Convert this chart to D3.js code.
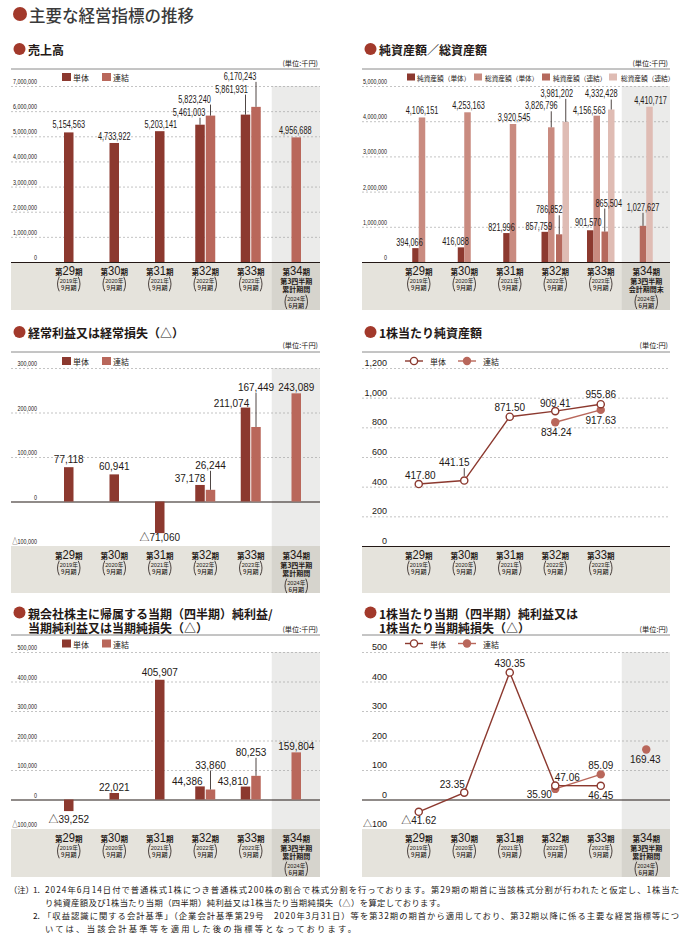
<!DOCTYPE html>
<html><head><meta charset="utf-8">
<script src="https://cdn.jsdelivr.net/npm/d3@7/dist/d3.min.js"></script>
<style>html,body{margin:0;padding:0;background:#fff;}svg{display:block;}</style>
</head><body>
<svg id="chart" width="686" height="939" xmlns="http://www.w3.org/2000/svg"></svg>
<script>
// ---------------- data ----------------
const periods = ["29","30","31","32","33","34"];
const years   = ["2019年","2020年","2021年","2022年","2023年","2024年"];
const months  = ["9月期","9月期","9月期","9月期","9月期","6月期"];
const q34Cumulative = ["第3四半期","累計期間"];
const q34PeriodEnd  = ["第3四半期","会計期間末"];

const salesTantai   = [5154563, 4733922, 5203141, 5461003, 5861931, null];
const salesRenketsu = [null, null, null, 5823240, 6170243, 4956688];
const salesTicks    = [0,1000000,2000000,3000000,4000000,5000000,6000000,7000000];

const netAssetsTantai     = [394066, 416088, 821996, 857759, 901570, null];
const totalAssetsTantai   = [4106151, 4253163, 3920545, 3826796, 4156563, null];
const netAssetsRenketsu   = [null, null, null, 786852, 865504, 1027627];
const totalAssetsRenketsu = [null, null, null, 3981202, 4332428, 4410717];
const assetTicks = [0,1000000,2000000,3000000,4000000,5000000];

const ordinaryTantai   = [77118, 60941, -71060, 37178, 211074, null];
const ordinaryRenketsu = [null, null, null, 26244, 167449, 243089];
const ordinaryTicks = [-100000,0,100000,200000,300000];

const bpsTantai   = [417.80, 441.15, 871.50, 909.41, 955.86];
const bpsRenketsu = [null, null, null, 834.24, 917.63];
const bpsTicks = [0,200,400,600,800,1000,1200];

const netIncomeTantai   = [-39252, 22021, 405907, 44386, 43810, null];
const netIncomeRenketsu = [null, null, null, 33860, 80253, 159804];
const netIncomeTicks = [-100000,0,100000,200000,300000,400000,500000];

const epsTantai   = [-41.62, 23.35, 430.35, 47.06, 46.45, null];
const epsRenketsu = [null, null, null, 35.90, 85.09, 169.43];
const epsTicks = [-100,0,100,200,300,400,500];

const notes = [
  "2024年6月14日付で普通株式1株につき普通株式200株の割合で株式分割を行っております。第29期の期首に当該株式分割が行われたと仮定し、1株当た",
  "り純資産額及び1株当たり当期（四半期）純利益又は1株当たり当期純損失（△）を算定しております。",
  "「収益認識に関する会計基準」（企業会計基準第29号　2020年3月31日）等を第32期の期首から適用しており、第32期以降に係る主要な経営指標等につ",
  "いては、当該会計基準等を適用した後の指標等となっております。"
];

// -------- label placement (layout only): [dx from mark centre, gap to baseline, leader] --------
const salesTantaiLab   = [[0,4],[0,3],[1,3],[-11,9],[-14,22],null];
const salesRenketsuLab = [null,null,null,[-16,13],[-16,27],[-1,3]];
const netAssetsTantaiLab     = [[-6,2],[-5.5,2],[-5,2],[-6,2],[-2,4],null];
const totalAssetsTantaiLab   = [[0,3.5],[1,3],[1,3],[-10,18],[-7.5,2],null];
const netAssetsRenketsuLab   = [null,null,null,[-10,21],[4,25],[0,15]];
const totalAssetsRenketsuLab = [null,null,null,[-9,25],[-10,12],[1,3]];
const ordinaryTantaiLab   = [[0,4],[0,4],[0,8],[-10,2.5],[-14,1],null];
const ordinaryRenketsuLab = [null,null,null,[0,21],[0,36],[0,2]];
const netIncomeTantaiLab   = [[0,11.5],[0,2.5],[0,3.5],[-12.75,1.5],[-12.5,1.5],null];
const netIncomeRenketsuLab = [null,null,null,[0,21],[-5,20],[0,2]];
const bpsTantaiLab   = [[1.5,-5.5],[-10,-15,true],[0,-6],[0,-4.6],[0,-6.7]];
const bpsRenketsuLab = [null,null,null,[1,14],[0,14.5]];
const epsTantaiLab   = [[0,12],[-12,-4.6],[0,-5.5],[12,-4.6],[0,13],null];
const epsRenketsuLab = [null,null,null,[-16,9],[0,-5.4],[-1,13.5]];

// ---------------- styles ----------------
const JP  = '"Noto Sans CJK JP","Noto Sans",sans-serif';
const NUM = '"Liberation Sans",Arial,"Noto Sans CJK JP",sans-serif';
const C = {
  tan:"#8c392f", ren:"#b9675b", bullet:"#a2392b", text:"#231815",
  na1:"#8c392f", ta1:"#c98b80", na2:"#b5695d", ta2:"#dfbcb4",
  band:"#e5e3dc", bandDark:"#d6d4cd", shade:"#ebebea",
  grid:"#9c9c9c", top:"#8a8a8a", axis:"#231815"
};
const panels = {
  L:{x0:11, x1:320, c0:46,  c1:319, tickX:37},
  R:{x0:362,x1:670, c0:396, c1:669, tickX:387}
};
const rows = [
  {title:[49],        unit:63,  top:69,  legend:77,    plotTop:86,  bandTop:262, bandBot:310},
  {title:[332],       unit:345, top:352, legend:361,   plotTop:368, bandTop:546, bandBot:593},
  {title:[612.5,626.5], unit:629, top:635, legend:643.5, plotTop:652, bandTop:829, bandBot:877}
];

const svg = d3.select("#chart");
const fmtInt = v => (v<0?"△":"") + d3.format(",")(Math.abs(v));
const fmtDec = v => (v<0?"△":"") + d3.format(".2f")(Math.abs(v));

function txt(g, x, y, s, o={}) {
  const t = g.append("text")
    .attr("transform", `translate(${x},${y})` + (o.sx ? ` scale(${o.sx},1)` : ""))
    .attr("text-anchor", o.anchor || "middle")
    .attr("font-family", o.family || NUM)
    .attr("font-size", o.size || 10)
    .attr("fill", o.fill || C.text)
    .text(s);
  if (o.weight) t.attr("font-weight", o.weight);
  if (o.baseline) t.attr("dominant-baseline", o.baseline);
  return t;
}

// ---------------- header ----------------
svg.append("circle").attr("cx",20).attr("cy",14).attr("r",7).attr("fill",C.bullet);
txt(svg, 29, 14.5, "主要な経営指標の推移", {anchor:"start", family:JP, size:16.5, weight:500, fill:"#3a3a3a", baseline:"central"});

// ---------------- frame ----------------
function frame(pk, ri, cfg) {
  const P = panels[pk], R = rows[ri];
  const g = svg.append("g");
  const x = d3.scaleBand().domain(d3.range(6)).range([P.c0, P.c1]);
  const cx = i => x(i) + x.bandwidth()/2;
  const y = d3.scaleLinear().domain(cfg.domain).range([R.bandTop, R.plotTop]);

  // title
  g.append("circle").attr("cx",P.x0+8.5).attr("cy",R.title[0]).attr("r",6).attr("fill",C.bullet);
  cfg.title.forEach((s,k)=> txt(g, P.x0+17, R.title[k]+0.5, s, {anchor:"start", family:JP, size:12, weight:700, baseline:"central"}));
  txt(g, P.x1-2, R.unit, cfg.unit, {anchor:"end", family:JP, size:7.2, baseline:"central"});
  g.append("line").attr("x1",P.x0).attr("x2",P.x1).attr("y1",R.top).attr("y2",R.top).attr("stroke",C.top).attr("stroke-width",1);

  // band + shading
  g.append("rect").attr("x",P.x0).attr("y",R.bandTop).attr("width",P.x1-P.x0).attr("height",R.bandBot-R.bandTop).attr("fill",C.band);
  if (cfg.shaded) {
    const sx = cx(5) - 24.5;
    g.append("rect").attr("x",sx).attr("y",R.plotTop).attr("width",P.x1-sx).attr("height",R.bandTop-R.plotTop).attr("fill",C.shade);
    g.append("rect").attr("x",sx).attr("y",R.bandTop).attr("width",P.x1-sx).attr("height",R.bandBot-R.bandTop).attr("fill",C.bandDark);
  }

  // axis with gridlines
  const ax = g.append("g").attr("transform",`translate(${P.x0},0)`)
    .call(d3.axisRight(y).tickValues(cfg.ticks).tickFormat(cfg.tickFmt).tickSize(P.x1-P.x0));
  ax.select(".domain").remove();
  ax.selectAll(".tick line")
    .attr("stroke", d => d===0 ? C.axis : C.grid)
    .attr("stroke-width", d => d===0 ? 1.2 : 0.6)
    .attr("stroke-dasharray", d => d===0 ? null : "2,2")
    .attr("opacity", d => (d===cfg.domain[0] && d!==0) ? 0 : 1);
  ax.selectAll(".tick text")
    .attr("x",0).attr("dy",null)
    .attr("transform", `translate(${P.tickX-P.x0},-2.5)` + (cfg.tickSx ? ` scale(${cfg.tickSx},1)` : ""))
    .attr("text-anchor","end")
    .attr("font-family", NUM).attr("font-size", cfg.tickSize).attr("fill", C.text);

  // category labels: one multi-line text element per category
  const bt = R.bandTop;
  for (let i=0; i<cfg.nCat; i++) {
    const c = cx(i);
    const t = g.append("text").attr("text-anchor","middle").attr("fill",C.text).attr("font-family",JP);
    const first = t.append("tspan").attr("x",c).attr("y",bt+13.2);
    first.append("tspan").attr("font-size",7.5).attr("font-weight",700).text("第");
    first.append("tspan").attr("font-family",NUM).attr("font-size",12.5).attr("textLength",12.5).attr("lengthAdjust","spacingAndGlyphs").text(periods[i]);
    first.append("tspan").attr("font-size",7.5).attr("font-weight",700).text("期");
    let yy = bt + 20.8;
    if (i===5 && cfg.sub34) {
      cfg.sub34.forEach((s,k)=> t.append("tspan").attr("x",c).attr("y",bt+21.8+k*8).attr("font-size",7).attr("font-weight",700).text(s));
      yy = bt + 38.6;
    }
    t.append("tspan").attr("x",c).attr("y",yy).attr("font-family",NUM).attr("font-size",5.6).text(years[i]);
    t.append("tspan").attr("x",c).attr("y",yy+7).attr("font-size",6).attr("font-weight",500).text(months[i]);
    const top = yy-6, bot = yy+8.5, mid=(top+bot)/2;
    g.append("path").attr("d",`M${c-9.5},${top} Q${c-13},${mid} ${c-9.5},${bot}`).attr("fill","none").attr("stroke",C.text).attr("stroke-width",0.8);
    g.append("path").attr("d",`M${c+9.5},${top} Q${c+13},${mid} ${c+9.5},${bot}`).attr("fill","none").attr("stroke",C.text).attr("stroke-width",0.8);
  }
  return {g, x, cx, y, P, R};
}

// ---------------- bars ----------------
function drawBars(ch, series, w, gap, lab) {
  series.forEach(s => s.pos = []);
  d3.range(6).forEach(i => {
    const pres = series.filter(s => s.vals[i] != null);
    let tot = 0;
    pres.forEach((s,j)=>{ if (j>0 && pres[j-1].grp!==s.grp) tot += gap; tot += w; });
    let xx = ch.cx(i) - tot/2;
    pres.forEach((s,j)=>{ if (j>0 && pres[j-1].grp!==s.grp) xx += gap; s.pos[i] = xx; xx += w; });
  });
  series.forEach(s => {
    ch.g.append("g").selectAll("rect")
      .data(s.vals.map((v,i)=>({v,i})).filter(d=>d.v!=null))
      .join("rect")
      .attr("x", d => s.pos[d.i]).attr("width", w)
      .attr("y", d => Math.min(ch.y(d.v), ch.y(0)))
      .attr("height", d => Math.abs(ch.y(d.v) - ch.y(0)))
      .attr("fill", s.color);
  });
  series.forEach(s => {
    s.vals.forEach((v,i) => {
      if (v==null || !s.lab[i]) return;
      const [dx, gapY] = s.lab[i];
      const bx = s.pos[i] + w/2, end = ch.y(v);
      const base = v >= 0 ? end - gapY : end + gapY;
      txt(ch.g, bx+dx, base, fmtInt(v), {size:lab.size, sx:lab.sx});
      if (v >= 0 && gapY > 8) {
        ch.g.append("line").attr("x1",bx).attr("x2",bx).attr("y1",base+2).attr("y2",end)
          .attr("stroke",C.text).attr("stroke-width",0.8);
      }
    });
  });
}

function squareLegend(ch, items, xs, txs, size, sq) {
  const yL = ch.R.legend;
  items.forEach((it,k)=>{
    ch.g.append("rect").attr("x",xs[k]).attr("y",yL-sq[1]/2).attr("width",sq[0]).attr("height",sq[1]).attr("fill",it.color);
    txt(ch.g, txs[k], yL+0.5, it.name, {anchor:"start", family:JP, size:size, baseline:"central"});
  });
}

// ---------------- lines ----------------
function drawLines(ch, tan, ren, tanLab, renLab) {
  const line = d3.line().defined(d=>d.v!=null).x(d=>ch.cx(d.i)).y(d=>ch.y(d.v));
  const annual = arr => arr.slice(0,5).map((v,i)=>({v,i}));
  ch.g.append("path").attr("d", line(annual(ren))).attr("fill","none").attr("stroke",C.ren).attr("stroke-width",1.4);
  ch.g.append("path").attr("d", line(annual(tan))).attr("fill","none").attr("stroke",C.tan).attr("stroke-width",1.4);
  const rPts = ren.map((v,i)=>({v,i})).filter(d=>d.v!=null);
  const tPts = tan.map((v,i)=>({v,i})).filter(d=>d.v!=null);
  ch.g.append("g").selectAll("circle").data(rPts).join("circle")
    .attr("cx",d=>ch.cx(d.i)).attr("cy",d=>ch.y(d.v)).attr("r",4.2).attr("fill",C.ren);
  ch.g.append("g").selectAll("circle").data(tPts).join("circle")
    .attr("cx",d=>ch.cx(d.i)).attr("cy",d=>ch.y(d.v)).attr("r",3.6).attr("fill","#fff").attr("stroke",C.tan).attr("stroke-width",1.4);
  [[tPts,tanLab],[rPts,renLab]].forEach(([pts,lab])=>{
    pts.forEach(d=>{
      const L = lab[d.i]; if (!L) return;
      const px = ch.cx(d.i), py = ch.y(d.v), base = py + L[1];
      txt(ch.g, px+L[0], base, fmtDec(d.v), {size:10});
      if (L[2]) ch.g.append("line").attr("x1",px).attr("x2",px).attr("y1",base+2.5).attr("y2",py-4.6).attr("stroke",C.text).attr("stroke-width",0.8);
    });
  });
  const yL = ch.R.legend, lx = ch.P.x0;
  [[C.tan,"単体",0,true],[C.ren,"連結",53,false]].forEach(([col,name,off,open])=>{
    ch.g.append("line").attr("x1",lx+43+off).attr("x2",lx+61+off).attr("y1",yL).attr("y2",yL).attr("stroke",col).attr("stroke-width",1.4);
    if (open) ch.g.append("circle").attr("cx",lx+52+off).attr("cy",yL).attr("r",3.6).attr("fill","#fff").attr("stroke",col).attr("stroke-width",1.4);
    else ch.g.append("circle").attr("cx",lx+52+off).attr("cy",yL).attr("r",4.2).attr("fill",col);
    txt(ch.g, lx+68+off, yL+0.5, name, {anchor:"start", family:JP, size:8, baseline:"central"});
  });
}

// ---------------- chart 1: 売上高 ----------------
{
  const ch = frame("L", 0, {title:["売上高"], unit:"(単位:千円)", domain:[0,7000000], ticks:salesTicks,
    tickFmt:fmtInt, tickSize:7.5, tickSx:0.72, nCat:6, shaded:true, sub34:q34Cumulative});
  drawBars(ch, [
    {vals:salesTantai, color:C.tan, grp:0, lab:salesTantaiLab},
    {vals:salesRenketsu, color:C.ren, grp:1, lab:salesRenketsuLab}
  ], 9.5, 1, {size:10.5, sx:0.7});
  squareLegend(ch, [{name:"単体",color:C.tan},{name:"連結",color:C.ren}], [62,102], [73,113], 8, [9,8]);
}
// ---------------- chart 2: 純資産額／総資産額 ----------------
{
  const ch = frame("R", 0, {title:["純資産額／総資産額"], unit:"(単位:千円)", domain:[0,5000000], ticks:assetTicks,
    tickFmt:fmtInt, tickSize:7.5, tickSx:0.72, nCat:6, shaded:true, sub34:q34PeriodEnd});
  drawBars(ch, [
    {vals:netAssetsTantai, color:C.na1, grp:0, lab:netAssetsTantaiLab},
    {vals:totalAssetsTantai, color:C.ta1, grp:0, lab:totalAssetsTantaiLab},
    {vals:netAssetsRenketsu, color:C.na2, grp:1, lab:netAssetsRenketsuLab},
    {vals:totalAssetsRenketsu, color:C.ta2, grp:1, lab:totalAssetsRenketsuLab}
  ], 6.5, 1.5, {size:10.5, sx:0.7});
  squareLegend(ch, [
    {name:"純資産額（単体）",color:C.na1},{name:"総資産額（単体）",color:C.ta1},
    {name:"純資産額（連結）",color:C.na2},{name:"総資産額（連結）",color:C.ta2}
  ], [407,474,542,609], [417,485,553,621], 6.7, [8,7]);
}
// ---------------- chart 3: 経常利益 ----------------
{
  const ch = frame("L", 1, {title:["経常利益又は経常損失（△）"], unit:"(単位:千円)", domain:[-100000,300000], ticks:ordinaryTicks,
    tickFmt:fmtInt, tickSize:7.5, tickSx:0.72, nCat:6, shaded:true, sub34:q34Cumulative});
  drawBars(ch, [
    {vals:ordinaryTantai, color:C.tan, grp:0, lab:ordinaryTantaiLab},
    {vals:ordinaryRenketsu, color:C.ren, grp:1, lab:ordinaryRenketsuLab}
  ], 9.5, 1, {size:10});
  squareLegend(ch, [{name:"単体",color:C.tan},{name:"連結",color:C.ren}], [62,102], [73,113], 8, [9,8]);
}
// ---------------- chart 4: 1株当たり純資産額 ----------------
{
  const ch = frame("R", 1, {title:["1株当たり純資産額"], unit:"(単位:円)", domain:[0,1200], ticks:bpsTicks,
    tickFmt:d3.format(","), tickSize:9, nCat:5, shaded:false});
  drawLines(ch, bpsTantai, bpsRenketsu, bpsTantaiLab, bpsRenketsuLab);
}
// ---------------- chart 5: 当期純利益 ----------------
{
  const ch = frame("L", 2, {title:["親会社株主に帰属する当期（四半期）純利益/","当期純利益又は当期純損失（△）"], unit:"(単位:千円)",
    domain:[-100000,500000], ticks:netIncomeTicks, tickFmt:fmtInt, tickSize:7.5, tickSx:0.72, nCat:6, shaded:true, sub34:q34Cumulative});
  drawBars(ch, [
    {vals:netIncomeTantai, color:C.tan, grp:0, lab:netIncomeTantaiLab},
    {vals:netIncomeRenketsu, color:C.ren, grp:1, lab:netIncomeRenketsuLab}
  ], 9.5, 1, {size:10});
  squareLegend(ch, [{name:"単体",color:C.tan},{name:"連結",color:C.ren}], [62,102], [73,113], 8, [9,8]);
}
// ---------------- chart 6: 1株当たり当期純利益 ----------------
{
  const ch = frame("R", 2, {title:["1株当たり当期（四半期）純利益又は","1株当たり当期純損失（△）"], unit:"(単位:円)",
    domain:[-100,500], ticks:epsTicks, tickFmt:fmtInt, tickSize:9, nCat:6, shaded:true, sub34:q34Cumulative});
  drawLines(ch, epsTantai, epsRenketsu, epsTantaiLab, epsRenketsuLab);
}

// ---------------- notes ----------------
{
  const g = svg.append("g");
  const o = {anchor:"start", family:JP, size:8.3, baseline:"central"};
  txt(g, 9, 889, "（注）", o);
  txt(g, 33, 889, "1.", o);
  txt(g, 33, 915, "2.", o);
  const pos = [[45,889,634],[45,902,400],[43,915,636],[45,928,311]];
  notes.forEach((s,k)=>{
    const t = txt(g, pos[k][0], pos[k][1], s, o);
    t.attr("textLength", pos[k][2]).attr("lengthAdjust","spacing");
  });
}
</script>
</body></html>
